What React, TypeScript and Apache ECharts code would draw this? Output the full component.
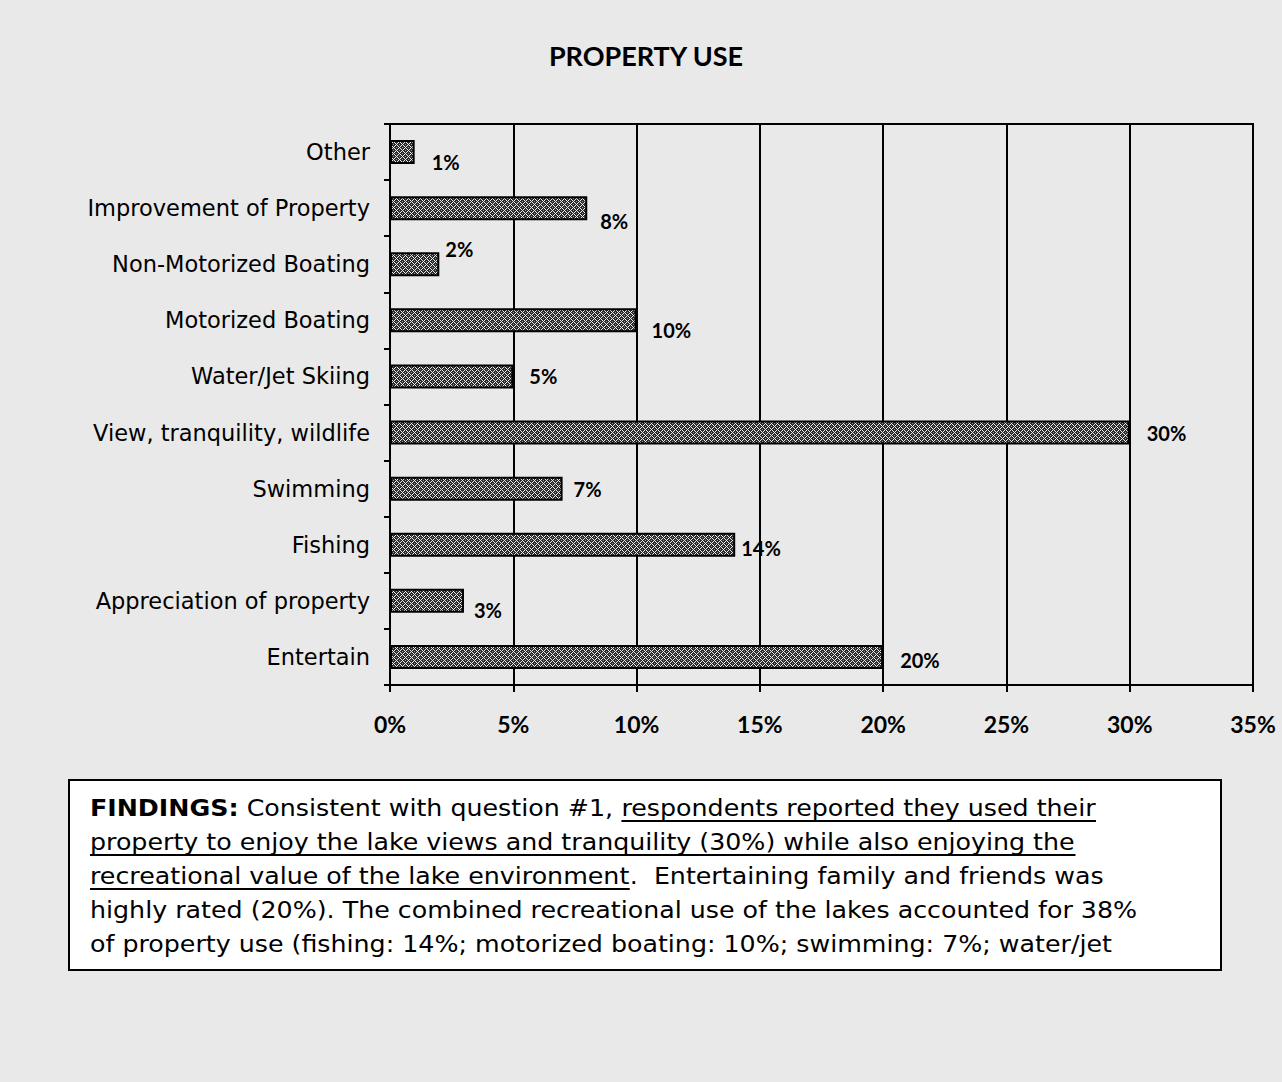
import React, { useEffect, useRef } from "react";
import * as echarts from "echarts";

const categories = [
  "Other",
  "Improvement of Property",
  "Non-Motorized Boating",
  "Motorized Boating",
  "Water/Jet Skiing",
  "View, tranquility, wildlife",
  "Swimming",
  "Fishing",
  "Appreciation of property",
  "Entertain",
];
const values = [1, 8, 2, 10, 5, 30, 7, 14, 3, 20];
// label nudges (style only)
const labelNudge: [number, number][] = [
  [2, 10], [-2, 13], [-9, -15], [0, 10], [1, 0], [2, 0], [-4, 0], [-9, 3], [-5, 9], [2, 3],
];

type Seg = { t: string; b?: boolean; u?: boolean };
const findingsLines: Seg[][] = [
  [
    { t: "FINDINGS:", b: true },
    { t: " Consistent with question #1, " },
    { t: "respondents reported they used their", u: true },
  ],
  [{ t: "property to enjoy the lake views and tranquility (30%) while also enjoying the", u: true }],
  [
    { t: "recreational value of the lake environment", u: true },
    { t: ".  Entertaining family and friends was" },
  ],
  [{ t: "highly rated (20%). The combined recreational use of the lakes accounted for 38%" }],
  [{ t: "of property use (fishing: 14%; motorized boating: 10%; swimming: 7%; water/jet" }],
];

const BODY_FONT = "'DejaVu Sans', sans-serif";
const NUM_FONT = "Lato, 'Open Sans', sans-serif";

export default function App() {
  const ref = useRef<HTMLDivElement>(null);
  useEffect(() => {
    if (!ref.current) return;
    const chart = echarts.init(ref.current, undefined, { renderer: "svg" });

    // crosshatch pattern
    const P = 6;
    const pc = document.createElement("canvas");
    pc.width = P;
    pc.height = P;
    const pctx = pc.getContext("2d")!;
    pctx.fillStyle = "#2a2a2a";
    pctx.fillRect(0, 0, P, P);
    for (let x = 0; x < P; x++) {
      for (let y = 0; y < P; y++) {
        if ((x + y) % P === 0 || (x - y + P) % P === 0) {
          pctx.fillStyle = "#eeeeee";
          pctx.fillRect(x, y, 1, 1);
        } else if ((x === 3 && y === 0) || (x === 0 && y === 3)) {
          pctx.fillStyle = "#999";
          pctx.fillRect(x, y, 1, 1);
        }
      }
    }

    // findings text
    const mc = document.createElement("canvas").getContext("2d")!;
    const fsize = 23.5;
    const fontOf = (b?: boolean) => `${b ? "bold " : ""}${fsize}px ${BODY_FONT}`;
    mc.font = fontOf(false);
    const sx = 1048 / mc.measureText(findingsLines[3][0].t).width;
    const graphics: any[] = [
      {
        type: "rect",
        shape: { x: 69, y: 780, width: 1152, height: 190 },
        style: { fill: "#ffffff", stroke: "#000000", lineWidth: 2 },
        z: 0,
      },
    ];
    findingsLines.forEach((line, i) => {
      let x = 90;
      const cy = 808 + i * 34;
      line.forEach((s) => {
        const font = fontOf(s.b);
        mc.font = font;
        const w = mc.measureText(s.t).width * sx;
        graphics.push({
          type: "text",
          x,
          y: cy,
          scaleX: sx,
          style: {
            text: s.t,
            font,
            fill: "#000",
            verticalAlign: "middle",
            align: "left",
          },
          z: 2,
        });
        if (s.u) {
          graphics.push({
            type: "line",
            shape: { x1: x, y1: cy + 13, x2: x + w, y2: cy + 13 },
            style: { stroke: "#000", lineWidth: 2 },
            z: 2,
          });
        }
        x += w;
      });
    });

    chart.setOption({
      animation: false,
      backgroundColor: "#e9e9e9",
      title: {
        text: "PROPERTY USE",
        left: 641,
        textAlign: "center",
        top: 37,
        textStyle: { fontFamily: NUM_FONT, fontSize: 27, fontWeight: "bold", color: "#000" },
      },
      grid: {
        left: 390,
        right: 29,
        top: 124,
        bottom: 397,
        show: true,
        borderColor: "#000",
        borderWidth: 2,
        backgroundColor: "transparent",
      },
      xAxis: {
        type: "value",
        min: 0,
        max: 35,
        interval: 5,
        axisLine: { show: true, lineStyle: { color: "#000", width: 2 } },
        axisTick: { show: true, length: 7, lineStyle: { color: "#000", width: 2 } },
        splitLine: { show: true, lineStyle: { color: "#000", width: 2 } },
        axisLabel: {
          formatter: "{value}%",
          margin: 27,
          fontFamily: NUM_FONT,
          fontSize: 23,
          fontWeight: "bold",
          color: "#000",
        },
      },
      yAxis: {
        type: "category",
        inverse: true,
        data: categories,
        axisLine: { show: true, lineStyle: { color: "#000", width: 2 } },
        axisTick: { show: true, length: 6, lineStyle: { color: "#000", width: 2 } },
        axisLabel: {
          margin: 20,
          fontFamily: BODY_FONT,
          fontSize: 22.5,
          color: "#000",
        },
      },
      series: [
        {
          type: "bar",
          barWidth: 24,
          data: values.map((v, i) => ({
            value: v,
            label: { offset: labelNudge[i] },
          })),
          itemStyle: {
            color: { image: pc, repeat: "repeat", imageWidth: P, imageHeight: P } as any,
            borderColor: "#000",
            borderWidth: 2,
          },
          label: {
            show: true,
            position: "right",
            distance: 15,
            formatter: "{c}%",
            fontFamily: NUM_FONT,
            fontSize: 20,
            fontWeight: "bold",
            color: "#000",
          },
        },
      ],
      graphic: graphics,
    });
    return () => chart.dispose();
  }, []);
  return (
    <div
      ref={ref}
      style={{ position: "fixed", left: 0, top: 0, width: 1282, height: 1082 }}
    />
  );
}
